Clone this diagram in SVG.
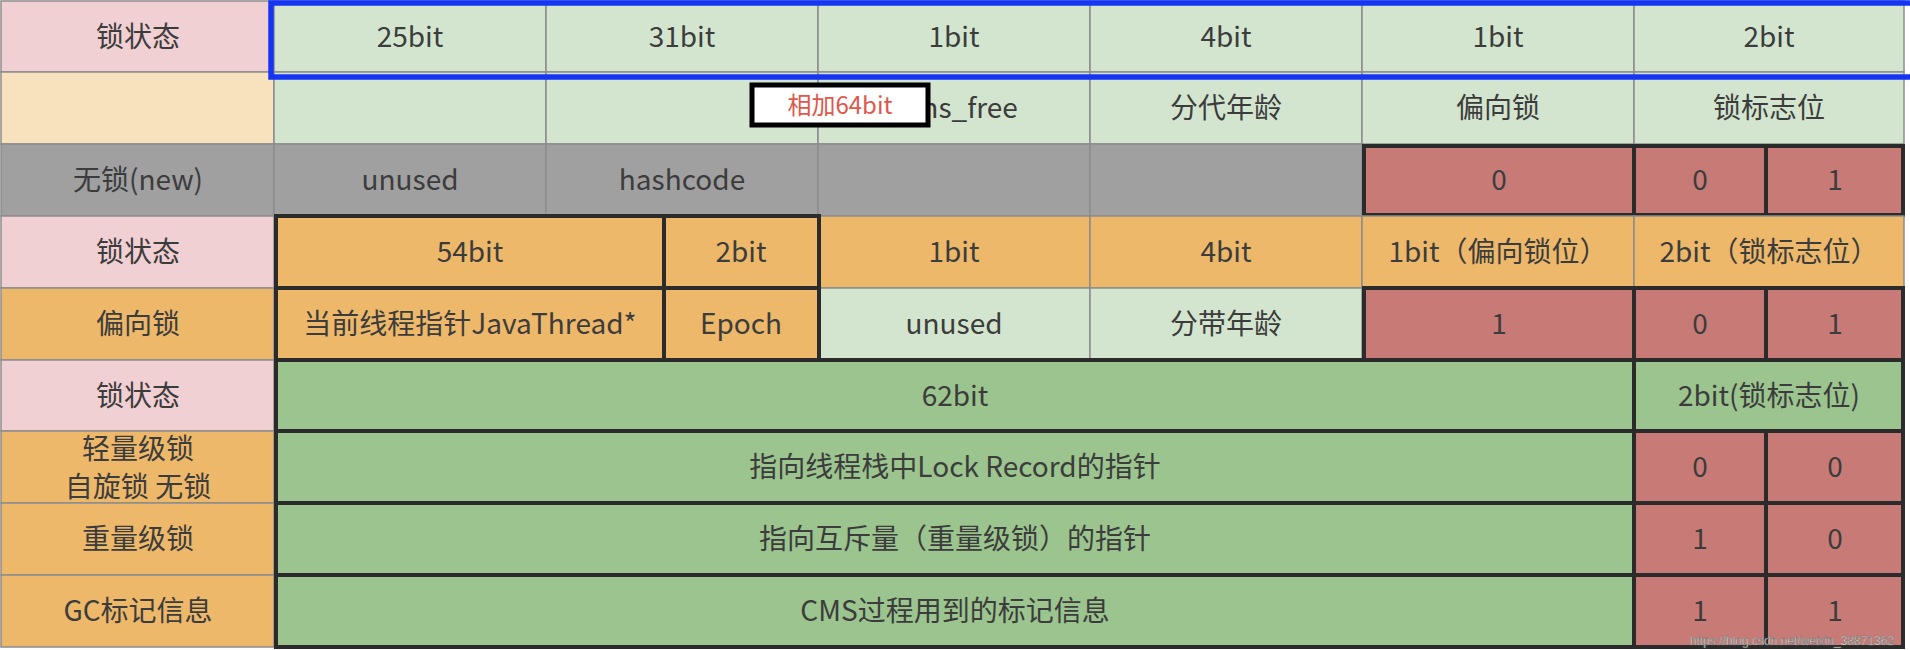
<svg xmlns="http://www.w3.org/2000/svg" width="1910" height="650" viewBox="0 0 1910 650">
<style>
text{font-family:"Noto Sans CJK SC","Noto Sans",sans-serif;font-size:28px;fill:#3c3c3c;text-anchor:middle}
.thin{stroke:#8c8c8c;stroke-width:1.5}
.thick{stroke:#2b2b2b;stroke-width:4}
.pink{fill:#f1d0d4}
.peach{fill:#f8e2bd}
.lg{fill:#d3e5cf}
.gy{fill:#a0a0a0}
.rd{fill:#c87b76}
.or{fill:#edb86a}
.gn{fill:#9bc48e}
.url{font-family:"Liberation Sans",sans-serif;font-size:12px;fill:#ffffff;stroke:#6a6a6a;stroke-width:0.5;text-anchor:start}
.note{font-family:"Noto Sans CJK SC",sans-serif;font-size:24px;fill:#e0584a}
</style>
<rect x="0" y="0" width="1910" height="650" fill="#ffffff"/>

<!-- Row 1 -->
<g id="r1-label"><rect class="pink thin" x="1" y="1" width="273" height="71"/><text x="138" y="47">锁状态</text></g>
<g id="r1-c1"><rect class="lg thin" x="274" y="1" width="272" height="71"/><text x="410" y="47">25bit</text></g>
<g id="r1-c2"><rect class="lg thin" x="546" y="1" width="272" height="71"/><text x="682" y="47">31bit</text></g>
<g id="r1-c3"><rect class="lg thin" x="818" y="1" width="272" height="71"/><text x="954" y="47">1bit</text></g>
<g id="r1-c4"><rect class="lg thin" x="1090" y="1" width="272" height="71"/><text x="1226" y="47">4bit</text></g>
<g id="r1-c5"><rect class="lg thin" x="1362" y="1" width="272" height="71"/><text x="1498" y="47">1bit</text></g>
<g id="r1-c6"><rect class="lg thin" x="1634" y="1" width="270" height="71"/><text x="1769" y="47">2bit</text></g>

<!-- Row 2 -->
<g id="r2-label"><rect class="peach thin" x="1" y="72" width="273" height="72"/></g>
<g id="r2-c1"><rect class="lg thin" x="274" y="72" width="272" height="72"/></g>
<g id="r2-c2"><rect class="lg thin" x="546" y="72" width="272" height="72"/></g>
<g id="r2-c3"><rect class="lg thin" x="818" y="72" width="272" height="72"/><text x="958" y="118">cms_free</text></g>
<g id="r2-c4"><rect class="lg thin" x="1090" y="72" width="272" height="72"/><text x="1226" y="118">分代年龄</text></g>
<g id="r2-c5"><rect class="lg thin" x="1362" y="72" width="272" height="72"/><text x="1498" y="118">偏向锁</text></g>
<g id="r2-c6"><rect class="lg thin" x="1634" y="72" width="270" height="72"/><text x="1769" y="118">锁标志位</text></g>

<!-- Row 3 -->
<g id="r3-label"><rect class="gy thin" x="1" y="144" width="273" height="72"/><text x="138" y="190">无锁(new)</text></g>
<g id="r3-c1"><rect class="gy thin" x="274" y="144" width="272" height="72"/><text x="410" y="190">unused</text></g>
<g id="r3-c2"><rect class="gy thin" x="546" y="144" width="272" height="72"/><text x="682" y="190">hashcode</text></g>
<g id="r3-c3"><rect class="gy thin" x="818" y="144" width="272" height="72"/></g>
<g id="r3-c4"><rect class="gy thin" x="1090" y="144" width="272" height="72"/></g>
<g id="r3-c5"><rect class="rd thick" x="1364" y="146" width="270" height="69"/><text x="1499" y="190">0</text></g>
<g id="r3-c6a"><rect class="rd thick" x="1634" y="146" width="132" height="69"/><text x="1700" y="190">0</text></g>
<g id="r3-c6b"><rect class="rd thick" x="1766" y="146" width="137" height="69"/><text x="1835" y="190">1</text></g>

<!-- Row 4 -->
<g id="r4-label"><rect class="pink thin" x="1" y="216" width="273" height="72"/><text x="138" y="262">锁状态</text></g>
<g id="r4-c3"><rect class="or thin" x="818" y="216" width="272" height="72"/><text x="954" y="262">1bit</text></g>
<g id="r4-c4"><rect class="or thin" x="1090" y="216" width="272" height="72"/><text x="1226" y="262">4bit</text></g>
<g id="r4-c5"><rect class="or thin" x="1362" y="216" width="272" height="72"/><text x="1498" y="262">1bit（偏向锁位）</text></g>
<g id="r4-c6"><rect class="or thin" x="1634" y="216" width="270" height="72"/><text x="1769" y="262">2bit（锁标志位）</text></g>
<g id="r4-c1"><rect class="or thick" x="276" y="216" width="388" height="72"/><text x="470" y="262">54bit</text></g>
<g id="r4-c2"><rect class="or thick" x="664" y="216" width="155" height="72"/><text x="741" y="262">2bit</text></g>

<!-- Row 5 -->
<g id="r5-label"><rect class="or thin" x="1" y="288" width="273" height="72"/><text x="138" y="334">偏向锁</text></g>
<g id="r5-c3"><rect class="lg thin" x="818" y="288" width="272" height="72"/><text x="954" y="334">unused</text></g>
<g id="r5-c4"><rect class="lg thin" x="1090" y="288" width="272" height="72"/><text x="1226" y="334">分带年龄</text></g>
<g id="r5-c1"><rect class="or thick" x="276" y="288" width="388" height="72"/><text x="470" y="334">当前线程指针JavaThread*</text></g>
<g id="r5-c2"><rect class="or thick" x="664" y="288" width="155" height="72"/><text x="741" y="334">Epoch</text></g>
<g id="r5-c5"><rect class="rd thick" x="1364" y="288" width="270" height="72"/><text x="1499" y="334">1</text></g>
<g id="r5-c6a"><rect class="rd thick" x="1634" y="288" width="132" height="72"/><text x="1700" y="334">0</text></g>
<g id="r5-c6b"><rect class="rd thick" x="1766" y="288" width="137" height="72"/><text x="1835" y="334">1</text></g>

<!-- Row 6 -->
<g id="r6-label"><rect class="pink thin" x="1" y="360" width="273" height="71"/><text x="138" y="406">锁状态</text></g>
<g id="r6-c1"><rect class="gn thick" x="276" y="360" width="1358" height="71"/><text x="955" y="406">62bit</text></g>
<g id="r6-c2"><rect class="gn thick" x="1634" y="360" width="269" height="71"/><text x="1769" y="406">2bit(锁标志位)</text></g>

<!-- Row 7 -->
<g id="r7-label"><rect class="or thin" x="1" y="431" width="273" height="72"/><text x="138" y="459">轻量级锁</text><text x="138" y="497">自旋锁 无锁</text></g>
<g id="r7-c1"><rect class="gn thick" x="276" y="431" width="1358" height="72"/><text x="955" y="477">指向线程栈中Lock Record的指针</text></g>
<g id="r7-c2a"><rect class="rd thick" x="1634" y="431" width="132" height="72"/><text x="1700" y="477">0</text></g>
<g id="r7-c2b"><rect class="rd thick" x="1766" y="431" width="137" height="72"/><text x="1835" y="477">0</text></g>

<!-- Row 8 -->
<g id="r8-label"><rect class="or thin" x="1" y="503" width="273" height="72"/><text x="138" y="549">重量级锁</text></g>
<g id="r8-c1"><rect class="gn thick" x="276" y="503" width="1358" height="72"/><text x="955" y="549">指向互斥量（重量级锁）的指针</text></g>
<g id="r8-c2a"><rect class="rd thick" x="1634" y="503" width="132" height="72"/><text x="1700" y="549">1</text></g>
<g id="r8-c2b"><rect class="rd thick" x="1766" y="503" width="137" height="72"/><text x="1835" y="549">0</text></g>

<!-- Row 9 -->
<g id="r9-label"><rect class="or thin" x="1" y="575" width="273" height="72"/><text x="138" y="621">GC标记信息</text></g>
<g id="r9-c1"><rect class="gn thick" x="276" y="575" width="1358" height="72"/><text x="955" y="621">CMS过程用到的标记信息</text></g>
<g id="r9-c2a"><rect class="rd thick" x="1634" y="575" width="132" height="72"/><text x="1700" y="621">1</text></g>
<g id="r9-c2b"><rect class="rd thick" x="1766" y="575" width="137" height="72"/><text x="1835" y="621">1</text></g>

<!-- Highlight box -->
<g id="highlight"><rect x="271" y="3" width="1650" height="74" fill="none" stroke="#1535f5" stroke-width="5.5"/></g>

<!-- Note -->
<g id="note"><rect x="752" y="85" width="176" height="40" fill="#ffffff" stroke="#000000" stroke-width="5"/><text class="note" x="840" y="114">相加64bit</text></g>

<g id="url"><text class="url" x="1690" y="645">https://blog.csdn.net/weixin_38871362</text></g>
</svg>
